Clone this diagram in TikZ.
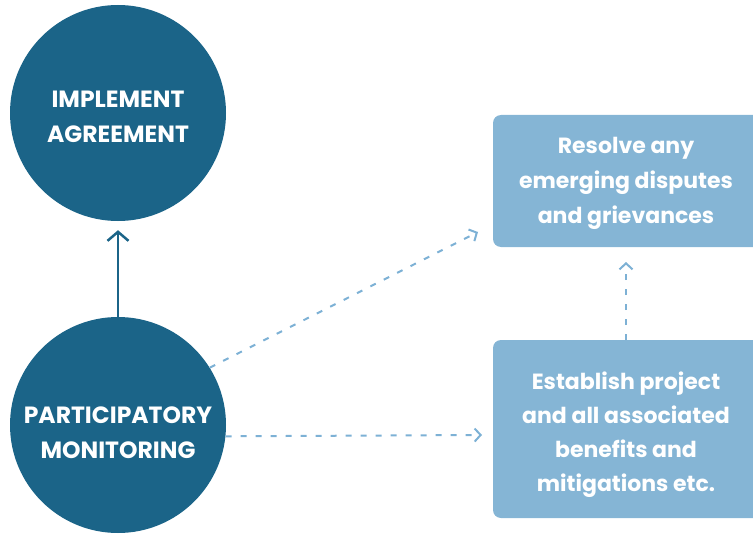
\documentclass[tikz,border=0pt]{standalone}
\usepackage{fontspec}
\setmainfont{Poppins}
\usetikzlibrary{arrows.meta,calc}
\definecolor{darkteal}{HTML}{1B6488}
\definecolor{lightblue}{HTML}{85B5D5}
\definecolor{dashblue}{HTML}{7DB1D5}
\begin{document}
\begin{tikzpicture}[x=1pt,y=-1pt,
  bigcircle/.style={circle,fill=darkteal,minimum size=216pt,inner sep=0pt},
  circletext/.style={text=white,font=\fontsize{23.5}{35}\selectfont\bfseries,align=center},
  boxtext/.style={text=white,font=\fontsize{22}{35}\selectfont\bfseries,align=center},
  solidarrow/.style={draw=darkteal,line width=2.5pt,-{Straight Barb[length=9pt,width=21pt,line width=2.5pt]}},
  dasharrow/.style={draw=dashblue,line width=2pt,dash pattern=on 6pt off 9pt,
    -{Straight Barb[length=6pt,width=13pt,line width=2pt]}}]
\useasboundingbox (0,0) rectangle (753,535);
\clip (0,0) rectangle (753,535);
\node[bigcircle] (ia) at (118,113) {};
\node[circletext] (iatext) at (118,117) {IMPLEMENT\\AGREEMENT};
\node[bigcircle] (pm) at (118,425) {};
\node[circletext] (pmtext) at (118,433) {PARTICIPATORY\\MONITORING};
\fill[lightblue,rounded corners=8pt] (493,115) rectangle (775,247);
\node[boxtext] (restext) at (626,183) {Resolve any\\emerging disputes\\and grievances};
\fill[lightblue,rounded corners=8pt] (493,340) rectangle (775,518);
\coordinate (estbox) at (626,340);
\node[boxtext,font=\fontsize{22}{34}\selectfont\bfseries] (esttext) at (626,435) {Establish project\\and all associated\\benefits and\\mitigations etc.};
\coordinate (tipdiag) at (478,232);
\coordinate (tiphor) at (482,435);
\coordinate (tipvert) at (626,262);
\draw[solidarrow] (pm.north) -- ($(ia.south)+(0,9)$);
\draw[dasharrow] (pm.32) -- (tipdiag);
\draw[dasharrow] (pm.-6) -- (tiphor);
\draw[dasharrow] (estbox) -- (tipvert);
\end{tikzpicture}
\end{document}
